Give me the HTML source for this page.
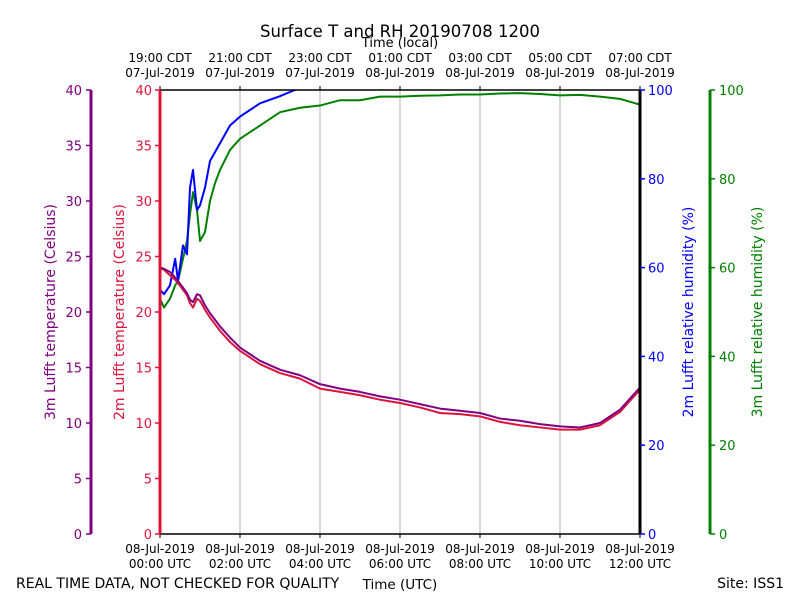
<!DOCTYPE html>
<html><head><meta charset="utf-8"><style>
body{margin:0;background:#fff}
svg text{font-family:"DejaVu Sans","Liberation Sans",sans-serif}
</style></head><body>
<svg id="c" width="800" height="600" viewBox="0 0 800 600">
<defs><clipPath id="pc"><rect x="160" y="90" width="480" height="444"/></clipPath></defs>
<text x="400" y="37" font-size="16.5" text-anchor="middle">Surface T and RH 20190708 1200</text>
<text x="400" y="47" font-size="13" text-anchor="middle">Time (local)</text>
<text x="400" y="589" font-size="13.5" text-anchor="middle">Time (UTC)</text>
<text x="16" y="588" font-size="14">REAL TIME DATA, NOT CHECKED FOR QUALITY</text>
<text x="784" y="588" font-size="14" text-anchor="end">Site: ISS1</text>
<g id="grid"></g><g id="lines" clip-path="url(#pc)"></g><g id="axes"></g>
</svg>
<script>
const hours=[0,0.1,0.25,0.38,0.45,0.575,0.675,0.75,0.825,0.925,1,1.125,1.25,1.375,1.5,1.75,2,2.5,3,3.5,4,4.5,5,5.5,6,6.5,7,7.5,8,8.5,9,9.5,10,10.5,11,11.5,12];
const t2m=[24.0,23.8,23.3,22.9,22.6,22.0,21.5,20.8,20.4,21.2,21.0,20.2,19.5,18.9,18.3,17.3,16.5,15.3,14.5,14.0,13.1,12.8,12.5,12.1,11.8,11.4,10.9,10.8,10.6,10.1,9.8,9.6,9.4,9.4,9.8,11.0,13.0];
const t3m=[24.0,23.9,23.6,23.1,22.8,22.2,21.7,21.1,20.9,21.6,21.5,20.6,19.9,19.3,18.7,17.7,16.8,15.6,14.8,14.3,13.5,13.1,12.8,12.4,12.1,11.7,11.3,11.1,10.9,10.4,10.2,9.9,9.7,9.6,10.0,11.2,13.2];
const rh2m=[55,54,56,62,57,65,63,78,82,73,74,78,84,86,88,92,94,97,98.6,100.5,102,102,102,102,102,102,102,102,102,102,102,102,102,102,102,102,102];
const rh3m=[53,51,53,56,57,62,66,72,77,73,66,68,75,79,82,86.5,89,92,95,96,96.5,97.7,97.7,98.5,98.5,98.7,98.8,99,99,99.2,99.3,99.1,98.8,98.9,98.5,98,96.7];
const xTicksUTC=[["08-Jul-2019","00:00 UTC"],["08-Jul-2019","02:00 UTC"],["08-Jul-2019","04:00 UTC"],["08-Jul-2019","06:00 UTC"],["08-Jul-2019","08:00 UTC"],["08-Jul-2019","10:00 UTC"],["08-Jul-2019","12:00 UTC"]];
const xTicksLocal=[["19:00 CDT","07-Jul-2019"],["21:00 CDT","07-Jul-2019"],["23:00 CDT","07-Jul-2019"],["01:00 CDT","08-Jul-2019"],["03:00 CDT","08-Jul-2019"],["05:00 CDT","08-Jul-2019"],["07:00 CDT","08-Jul-2019"]];
const tTicks=[0,5,10,15,20,25,30,35,40];
const rhTicks=[0,20,40,60,80,100];
const NS="http://www.w3.org/2000/svg";
const X=h=>160+h*40, YT=t=>534-t*11.1, YR=r=>534-r*4.44;
function el(tag,attrs,parent,txt){const e=document.createElementNS(NS,tag);for(const k in attrs)e.setAttribute(k,attrs[k]);if(txt!==undefined)e.textContent=txt;parent.appendChild(e);return e;}
const grid=document.getElementById('grid'),lines=document.getElementById('lines'),axes=document.getElementById('axes');
for(let i=1;i<6;i++){const g=el('line',{x1:X(i*2),x2:X(i*2),y1:90,y2:534,stroke:'#b0b0b0','stroke-width':1},grid);

}
function series(vals,yf,color,name){const p=el('polyline',{points:hours.map((h,i)=>X(h)+','+yf(vals[i])).join(' '),fill:'none',stroke:color,'stroke-width':2,'stroke-linejoin':'round'},lines);

}
series(rh3m,YR,'#008000','rh-3m-line');
series(rh2m,YR,'#0000ff','rh-2m-line');
series(t2m,YT,'#dc143c','temp-2m-line');
series(t3m,YT,'#800080','temp-3m-line');
let f=el('line',{x1:160,x2:640,y1:90,y2:90,stroke:'#000','stroke-width':1.5},axes);
f=el('line',{x1:160,x2:640,y1:534,y2:534,stroke:'#000','stroke-width':1.5},axes);
f=el('line',{x1:640,x2:640,y1:90,y2:534,stroke:'#000','stroke-width':3},axes);
f=el('line',{x1:160,x2:160,y1:90,y2:534,stroke:'#dc143c','stroke-width':3},axes);
f=el('line',{x1:91,x2:91,y1:90,y2:534,stroke:'#800080','stroke-width':3},axes);
f=el('line',{x1:710,x2:710,y1:90,y2:534,stroke:'#008000','stroke-width':3},axes);
xTicksUTC.forEach((l,i)=>{const x=X(i*2);
el('line',{x1:x,x2:x,y1:534,y2:538,stroke:'#000'},axes);el('line',{x1:x,x2:x,y1:86,y2:90,stroke:'#000'},axes);
const a=el('text',{x:x,y:553,'font-size':12,'text-anchor':'middle'},axes,l[0]);
const b=el('text',{x:x,y:568,'font-size':12,'text-anchor':'middle'},axes,l[1]);
const c=el('text',{x:x,y:62,'font-size':12,'text-anchor':'middle'},axes,xTicksLocal[i][0]);
const d=el('text',{x:x,y:77,'font-size':12,'text-anchor':'middle'},axes,xTicksLocal[i][1]);});
tTicks.forEach(t=>{const y=YT(t);
el('line',{x1:155,x2:160,y1:y,y2:y,stroke:'#dc143c','stroke-width':1.5},axes);
el('line',{x1:86,x2:91,y1:y,y2:y,stroke:'#800080','stroke-width':1.5},axes);
const a=el('text',{x:152,y:y+5,'font-size':13,'text-anchor':'end',fill:'#dc143c'},axes,t);
const b=el('text',{x:82,y:y+5,'font-size':13,'text-anchor':'end',fill:'#800080'},axes,t);});
rhTicks.forEach(r=>{const y=YR(r);
el('line',{x1:640,x2:645,y1:y,y2:y,stroke:'#0000ff','stroke-width':1.5},axes);
el('line',{x1:710,x2:715,y1:y,y2:y,stroke:'#008000','stroke-width':1.5},axes);
const a=el('text',{x:648,y:y+5,'font-size':13,fill:'#0000ff'},axes,r);
const b=el('text',{x:719,y:y+5,'font-size':13,fill:'#008000'},axes,r);});
function ytitle(x,txt,color,name){const t=el('text',{x:x,y:312,'font-size':14,'text-anchor':'middle',fill:color,transform:`rotate(-90 ${x} 312)`},axes,txt);

}
ytitle(55,'3m Lufft temperature (Celsius)','#800080','temp-3m-axis-title');
ytitle(124,'2m Lufft temperature (Celsius)','#dc143c','temp-2m-axis-title');
ytitle(693,'2m Lufft relative humidity (%)','#0000ff','rh-2m-axis-title');
ytitle(762,'3m Lufft relative humidity (%)','#008000','rh-3m-axis-title');
</script>
</body></html>
